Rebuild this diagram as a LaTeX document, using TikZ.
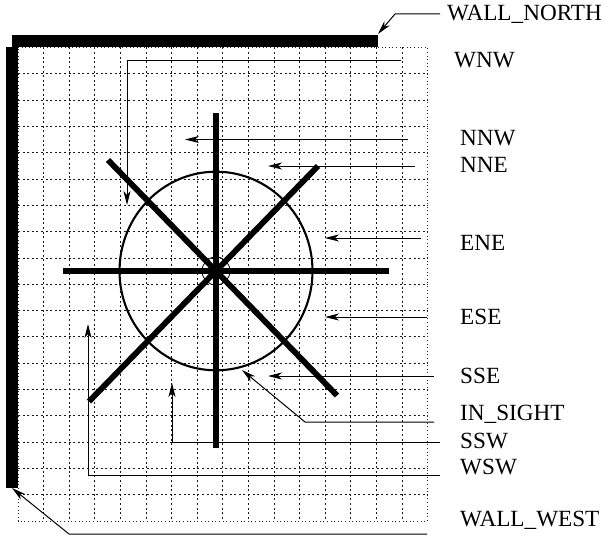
\documentclass[tikz,border=0pt]{standalone}
\usepackage{fontspec}
\setmainfont{Liberation Serif}
\usetikzlibrary{arrows.meta}
\tikzset{
  rast/.style={black!90,line width=0.7pt,dash pattern=on 2pt off 2.6pt},
  rand/.style={black!85,line width=0.7pt,dash pattern=on 1pt off 2.6pt},
  wand/.style={line width=11.5pt},
  speiche/.style={line width=5.8pt},
  kreis/.style={line width=2.1pt},
  pfeil/.style={-{Stealth[length=14pt,width=7pt,inset=4pt]},line width=1pt,black},
  lbl/.style={anchor=west,inner sep=0pt,font=\fontsize{23.2}{25}\selectfont},
}
\begin{document}
\begin{tikzpicture}[x=1pt,y=-1pt]
  \useasboundingbox (0,0) rectangle (604,535);
  % raster
  \foreach \i in {1,...,15} {
    \draw[rast] ({18+\i*25.6},47.5) -- ({18+\i*25.6},521);
  }
  \foreach \j in {1,...,17} {
    \draw[rast] (18,{47.5+\j*26.3}) -- (427.6,{47.5+\j*26.3});
  }
  \draw[rand] (18,47.5) -- (427.6,47.5) -- (427.6,521) -- (18,521) -- cycle;
  % walls
  \draw[wand] (12,41) -- (378,41);
  \draw[wand] (11.8,47) -- (11.8,488);
  % sight circle and spokes
  \coordinate (mitte) at (216,271);
  \draw[kreis] (mitte) ellipse (96.5 and 99.3);
  \draw[line width=0.8pt] (mitte) ellipse (14 and 14);
  \draw[speiche] (63,271) -- (389,271);
  \draw[speiche] (216,113) -- (216,448);
  \draw[speiche] (108,160) -- (337,395.5);
  \draw[speiche] (318,166) -- (89,401.5);
  % labels
  \node[lbl] (wallnorth) at (447,14) {WALL\_NORTH};
  \node[lbl] (wnw) at (454,60) {WNW};
  \node[lbl] (nnw) at (460,138) {NNW};
  \node[lbl] (nne) at (460,165) {NNE};
  \node[lbl] (ene) at (460,243) {ENE};
  \node[lbl] (ese) at (460,317) {ESE};
  \node[lbl] (sse) at (460,376) {SSE};
  \node[lbl] (insight) at (460,414) {IN\_SIGHT};
  \node[lbl] (ssw) at (460,441) {SSW};
  \node[lbl] (wsw) at (460,467) {WSW};
  \node[lbl] (wallwest) at (460,520) {WALL\_WEST};
  % connector ends
  \coordinate (wallnorthA) at (440,14);
  \coordinate (wallnorthB) at (378,34);
  \coordinate (wnwA) at (401,60.5);
  \coordinate (wnwB) at (127,205);
  \coordinate (nnwA) at (408,139.5);
  \coordinate (nnwB) at (185,139.5);
  \coordinate (nneA) at (415,166);
  \coordinate (nneB) at (268,166);
  \coordinate (eneA) at (421,238);
  \coordinate (eneB) at (325,238);
  \coordinate (eseA) at (427,317);
  \coordinate (eseB) at (325,317);
  \coordinate (sseA) at (434,376);
  \coordinate (sseB) at (268,376);
  \coordinate (insightA) at (434,422);
  \coordinate (insightB) at (242,370);
  \coordinate (sswA) at (440,442);
  \coordinate (sswB) at (172,383);
  \coordinate (wswA) at (440,475);
  \coordinate (wswB) at (88,324);
  \coordinate (wallwestA) at (427,534);
  \coordinate (wallwestB) at (12,488);
  % arrows
  \draw[pfeil] (wallnorthA) -- (395,14) -- (wallnorthB);
  \draw[pfeil] (wnwA) -- (wnwB |- wnwA) -- (wnwB);
  \draw[pfeil] (nnwA) -- (nnwB);
  \draw[pfeil] (nneA) -- (nneB);
  \draw[pfeil] (eneA) -- (eneB);
  \draw[pfeil] (eseA) -- (eseB);
  \draw[pfeil] (sseA) -- (sseB);
  \draw[pfeil] (insightA) -- (305,422) -- (insightB);
  \draw[pfeil] (sswA) -- (sswB |- sswA) -- (sswB);
  \draw[pfeil] (wswA) -- (wswB |- wswA) -- (wswB);
  \draw[pfeil] (wallwestA) -- (69,534) -- (wallwestB);
\end{tikzpicture}
\end{document}
